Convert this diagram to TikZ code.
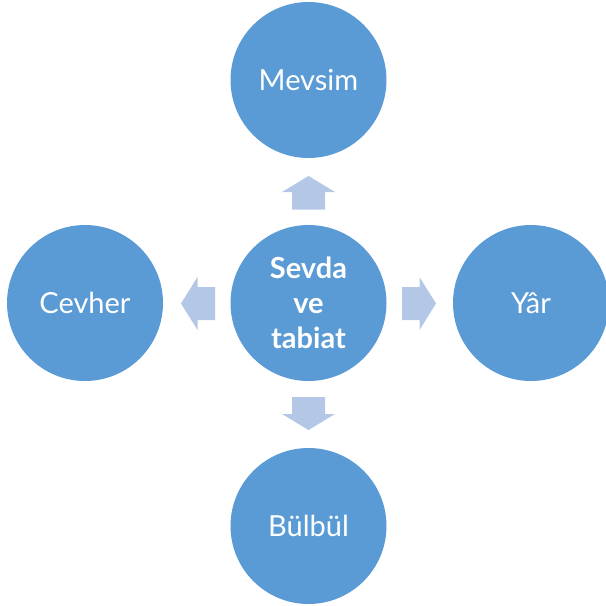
\documentclass[tikz,border=0pt]{standalone}
\usepackage{fontspec}
\setmainfont{Lato}
\definecolor{circblue}{HTML}{5B9BD5}
\definecolor{arrblue}{HTML}{B4C7E7}
\begin{document}
\begin{tikzpicture}[x=1pt,y=-1pt,
  bubble/.style={circle,fill=circblue,draw=none,minimum size=156pt,inner sep=0pt,text=white,font=\fontsize{29}{35}\selectfont,align=center},
  hub/.style={bubble,font=\bfseries\fontsize{29}{35}\selectfont},
  blockarrow/.style={fill=arrblue,draw=none}]
\useasboundingbox (0,0) rectangle (606,606);
\node[hub] (c) at (308.5,303) {Sevda\\ve\\tabiat};
\node[bubble] (t) at (308.5,80) {Mevsim};
\node[bubble] (l) at (85,303) {Cevher};
\node[bubble] (r) at (531,303) {Yâr};
\node[bubble] (b) at (308.5,526) {Bülbül};
% up arrow
\fill[blockarrow] (292,209.5) -- (292,192) -- (282,192) -- (308.5,176) -- (335,192) -- (325,192) -- (325,209.5) -- cycle;
% down arrow
\fill[blockarrow] (292,397) -- (292,414) -- (282,414) -- (308.5,430) -- (335,414) -- (325,414) -- (325,397) -- cycle;
% left arrow
\fill[blockarrow] (215,287) -- (197.5,287) -- (197.5,277) -- (181,303.5) -- (197.5,330) -- (197.5,320) -- (215,320) -- cycle;
% right arrow
\fill[blockarrow] (402,287) -- (419.5,287) -- (419.5,277) -- (436,303.5) -- (419.5,330) -- (419.5,320) -- (402,320) -- cycle;
\end{tikzpicture}
\end{document}
